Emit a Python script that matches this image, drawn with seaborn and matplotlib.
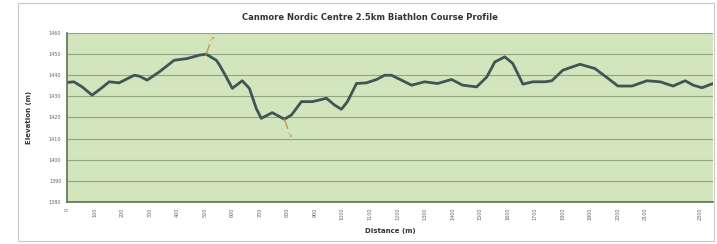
import pandas as pd
import matplotlib.pyplot as plt
import seaborn as sns
from matplotlib.patches import Rectangle

# course profile
distance_m = [0, 25, 55, 91, 124, 153, 189, 244, 262, 291, 335, 389, 436, 480, 505,
              542, 553, 578, 600, 636, 662, 687, 705, 745, 789, 815, 851, 891, 942,
              971, 996, 1018, 1051, 1087, 1124, 1153, 1178, 1251, 1298, 1345, 1396,
              1436, 1487, 1524, 1553, 1589, 1618, 1655, 1691, 1735, 1760, 1800, 1862,
              1916, 1964, 2000, 2051, 2105, 2153, 2200, 2244, 2273, 2305, 2345]
elevation_m = [1436.6, 1436.9, 1434.5, 1430.6, 1433.8, 1436.9, 1436.4, 1440.0, 1439.6,
               1437.7, 1441.6, 1447.1, 1447.9, 1449.5, 1450.0, 1447.1, 1445.0, 1439.2,
               1433.8, 1437.4, 1433.8, 1424.3, 1419.6, 1422.3, 1419.2, 1421.2, 1427.5,
               1427.5, 1429.1, 1425.9, 1423.9, 1427.5, 1436.1, 1436.4, 1438.0, 1440.0,
               1440.0, 1435.3, 1436.9, 1436.1, 1438.0, 1435.3, 1434.5, 1439.2, 1446.3,
               1448.7, 1445.6, 1435.8, 1436.9, 1436.9, 1437.4, 1442.4, 1445.2, 1443.2,
               1438.5, 1434.9, 1434.9, 1437.4, 1436.9, 1434.9, 1437.4, 1435.3, 1434.1,
               1436.1]

x_ticks = list(range(0, 2400, 100))
x_tick_labels = [str(v) if v != 2200 else "" for v in x_ticks]
y_ticks = list(range(1380, 1470, 10))

df = pd.DataFrame({"Distance (m)": distance_m, "Elevation (m)": elevation_m})

sns.set_style("white")
fig = plt.figure(figsize=(7.17, 2.44), dpi=100)
fig.patches.append(Rectangle((18 / 717, 3 / 244), 696 / 717, 238 / 244, transform=fig.transFigure,
                             fill=False, edgecolor="#c8c8c8", linewidth=0.8))
ax = fig.add_axes([67 / 717, 1 - 202 / 244, 646 / 717, 169 / 244])
ax.set_facecolor("#d2e5bd")

sns.lineplot(data=df, x="Distance (m)", y="Elevation (m)", ax=ax,
             color="#3f5556", linewidth=2.0)

ax.set_xlim(0, 2345)
ax.set_ylim(1380, 1460)
ax.set_xticks(x_ticks)
ax.set_xticklabels(x_tick_labels, rotation=90, fontsize=3.5, color="#666666")
ax.set_yticks(y_ticks)
ax.set_yticklabels([str(v) for v in y_ticks], fontsize=3.5, color="#666666")
ax.tick_params(axis="both", length=2, width=0.6, color="#8a9a80", pad=2)
ax.grid(axis="y", color="#8fa680", linewidth=0.8)
ax.set_axisbelow(True)
for side in ["top", "right"]:
    ax.spines[side].set_visible(False)
for side in ["left", "bottom"]:
    ax.spines[side].set_color("#5d7350")
    ax.spines[side].set_linewidth(1.2)

ax.set_xlabel("Distance (m)", fontsize=5, fontweight="bold", color="#333333", labelpad=6)
ax.set_ylabel("Elevation (m)", fontsize=5, fontweight="bold", color="#333333", labelpad=12)
fig.text(370 / 717, 1 - 18 / 244, "Canmore Nordic Centre 2.5km Biathlon Course Profile",
         ha="center", va="center", fontsize=6, fontweight="bold", color="#333333")

# small markers at the high and low points
hi = elevation_m.index(max(elevation_m))
lo = elevation_m.index(min(elevation_m))
ax.annotate("\u2197", xy=(distance_m[hi], elevation_m[hi]), xytext=(2, 9), textcoords="offset points",
            fontsize=5, color="#c8964a", ha="left", va="bottom",
            arrowprops=dict(arrowstyle="-", color="#c8964a", lw=1.0, shrinkA=0, shrinkB=0))
ax.annotate("\u2198", xy=(distance_m[lo], elevation_m[lo]), xytext=(2, -9), textcoords="offset points",
            fontsize=5, color="#c8964a", ha="left", va="top",
            arrowprops=dict(arrowstyle="-", color="#c8964a", lw=1.0, shrinkA=0, shrinkB=0))

fig.savefig("out.png", dpi=100)
